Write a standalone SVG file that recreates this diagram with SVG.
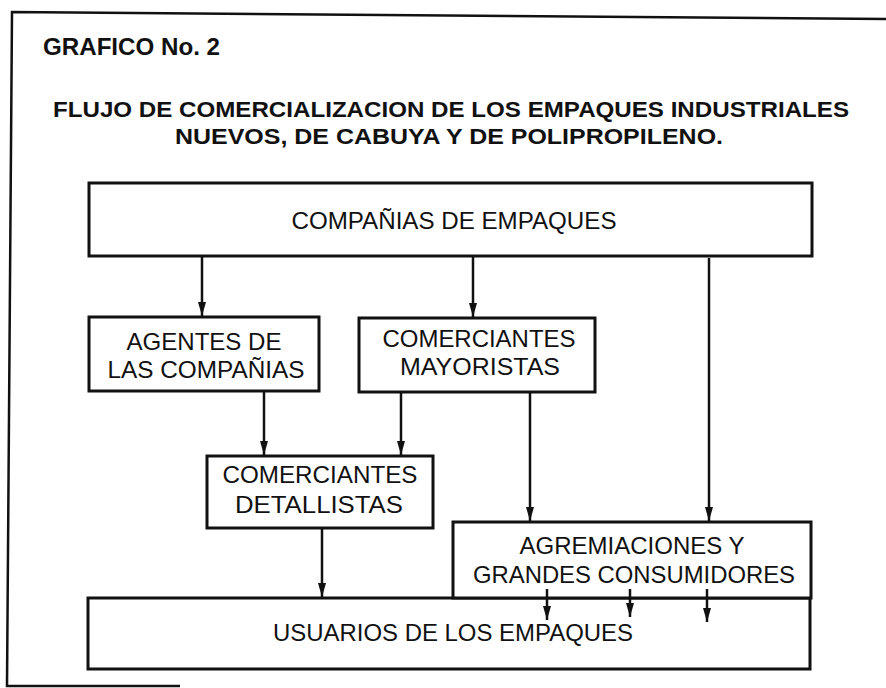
<svg xmlns="http://www.w3.org/2000/svg" width="886" height="688" viewBox="0 0 886 688">
<style>
  .box { fill: #fff; stroke: #111; stroke-width: 3; }
  .frame { fill: none; stroke: #111; stroke-width: 2.5; }
  .conn { fill: none; stroke: #111; stroke-width: 2.5; }
  .lbl { font-family: "Liberation Sans", Arial, sans-serif; font-size: 24px; fill: #111; text-anchor: middle; }
  .ttl { font-family: "Liberation Sans", Arial, sans-serif; font-size: 22.5px; font-weight: bold; fill: #111; }
  .hdr { font-family: "Liberation Sans", Arial, sans-serif; font-size: 24px; font-weight: bold; fill: #111; }
</style>
<defs>
  <marker id="ahd" viewBox="0 0 14 8" refX="14" refY="4" markerWidth="14" markerHeight="8" markerUnits="userSpaceOnUse" orient="auto">
    <path d="M0,0 L14,4 L0,8 Z" fill="#111"/>
  </marker>
</defs>
<rect width="886" height="688" fill="#fff"/>

<g id="frame">
  <path class="frame" d="M886,19 L12,12 L7,686 L180,686"/>
</g>

<g id="titles">
  <text class="hdr" x="43" y="55" textLength="177" lengthAdjust="spacingAndGlyphs">GRAFICO No. 2</text>
  <text class="ttl" x="53" y="117" textLength="796" lengthAdjust="spacingAndGlyphs">FLUJO DE COMERCIALIZACION DE LOS EMPAQUES INDUSTRIALES</text>
  <text class="ttl" x="175" y="144" textLength="548" lengthAdjust="spacingAndGlyphs">NUEVOS, DE CABUYA Y DE POLIPROPILENO.</text>
</g>

<g id="connectors">
  <line class="conn" x1="202" y1="256" x2="202" y2="316" marker-end="url(#ahd)"/>
  <line class="conn" x1="473" y1="256" x2="473" y2="317" marker-end="url(#ahd)"/>
  <line class="conn" x1="709" y1="258" x2="709" y2="521" marker-end="url(#ahd)"/>
  <line class="conn" x1="264" y1="392" x2="264" y2="455" marker-end="url(#ahd)"/>
  <line class="conn" x1="401" y1="393" x2="401" y2="455" marker-end="url(#ahd)"/>
  <line class="conn" x1="530" y1="393" x2="530" y2="521" marker-end="url(#ahd)"/>
  <line class="conn" x1="322" y1="529" x2="322" y2="597" marker-end="url(#ahd)"/>
</g>

<g id="n-companias">
  <rect class="box" x="89" y="183" width="723" height="73"/>
  <text class="lbl" x="454" y="229" textLength="325" lengthAdjust="spacingAndGlyphs">COMPAÑIAS DE EMPAQUES</text>
</g>

<g id="n-agentes">
  <rect class="box" x="89" y="317" width="230" height="74"/>
  <text class="lbl" x="204" y="350" textLength="155" lengthAdjust="spacingAndGlyphs">AGENTES DE</text>
  <text class="lbl" x="206" y="378" textLength="197" lengthAdjust="spacingAndGlyphs">LAS COMPAÑIAS</text>
</g>

<g id="n-mayoristas">
  <rect class="box" x="359" y="318" width="236" height="74"/>
  <text class="lbl" x="479" y="347" textLength="193" lengthAdjust="spacingAndGlyphs">COMERCIANTES</text>
  <text class="lbl" x="480" y="375" textLength="160" lengthAdjust="spacingAndGlyphs">MAYORISTAS</text>
</g>

<g id="n-detallistas">
  <rect class="box" x="207" y="456" width="226" height="72"/>
  <text class="lbl" x="320" y="483" textLength="195" lengthAdjust="spacingAndGlyphs">COMERCIANTES</text>
  <text class="lbl" x="319" y="513" textLength="168" lengthAdjust="spacingAndGlyphs">DETALLISTAS</text>
</g>

<g id="n-usuarios">
  <rect class="box" x="88" y="598" width="722" height="71"/>
  <text class="lbl" x="453" y="641" textLength="360" lengthAdjust="spacingAndGlyphs">USUARIOS DE LOS EMPAQUES</text>
</g>

<g id="n-agremiaciones">
  <rect class="box" x="453" y="522" width="358" height="76"/>
  <text class="lbl" x="632" y="554" textLength="225" lengthAdjust="spacingAndGlyphs">AGREMIACIONES Y</text>
  <text class="lbl" x="634" y="583" textLength="322" lengthAdjust="spacingAndGlyphs">GRANDES CONSUMIDORES</text>
</g>

<g id="connectors-to-usuarios">
  <line class="conn" x1="547" y1="589" x2="547" y2="620" marker-end="url(#ahd)"/>
  <line class="conn" x1="630" y1="589" x2="630" y2="617" marker-end="url(#ahd)"/>
  <line class="conn" x1="707" y1="589" x2="707" y2="622" marker-end="url(#ahd)"/>
</g>
</svg>
